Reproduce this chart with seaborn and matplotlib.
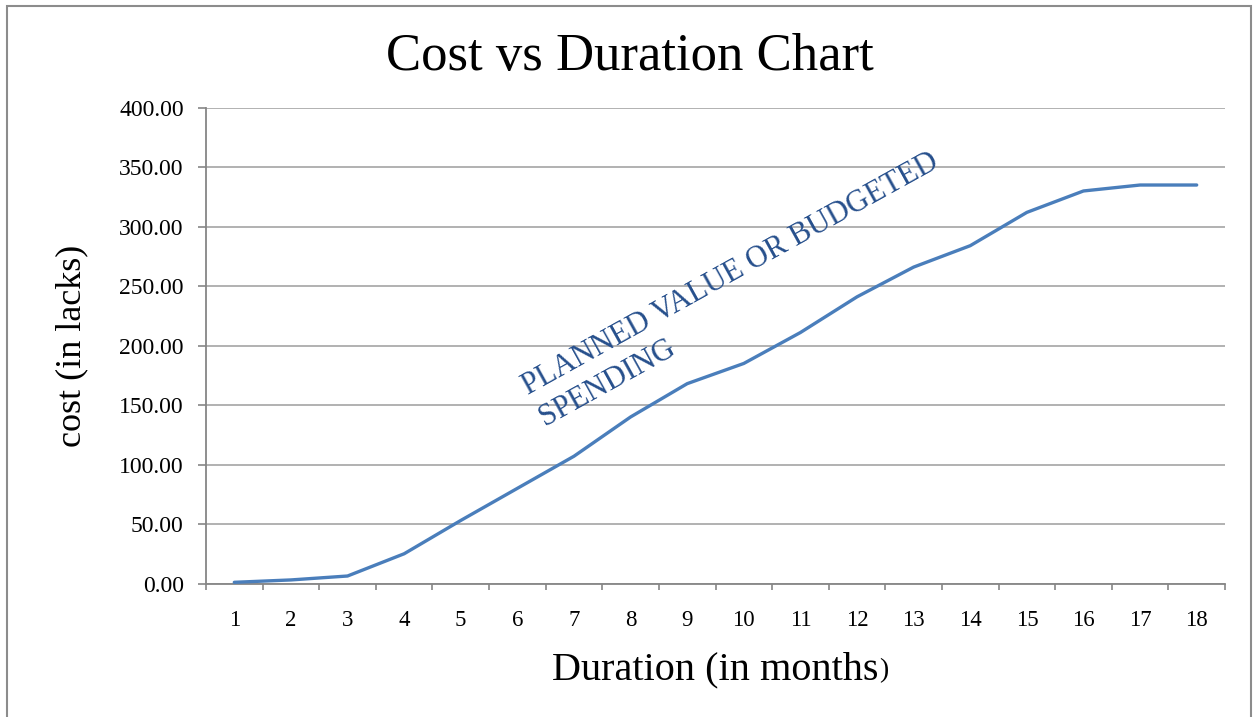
import numpy as np
import pandas as pd

#visualization
import matplotlib
matplotlib.use("Agg")
import matplotlib.pyplot as plt
from matplotlib.patches import Rectangle
from matplotlib.ticker import StrMethodFormatter
import seaborn as sns

# data
months = list(range(1, 19))
cost = [1.0, 3.0, 6.3, 25.0, 53.0, 80.0, 107.0, 140.0, 168.0,
        185.0, 211.0, 241.0, 266.0, 284.0, 312.0, 330.0, 335.0, 335.0]
y_ticks = list(range(0, 401, 50))

title = "Cost vs Duration Chart"
x_label = "Duration (in months"
y_label = "cost (in lacks)"
note = "PLANNED VALUE OR BUDGETED\nSPENDING"

df = pd.DataFrame({"month": months, "cost": cost})

sns.set_style("white")
plt.rcParams["font.family"] = ["Liberation Serif", "DejaVu Serif"]
plt.rcParams["text.color"] = "black"
plt.rcParams["axes.labelcolor"] = "black"
plt.rcParams["xtick.color"] = "black"
plt.rcParams["ytick.color"] = "black"

line_color = "#4a7ebb"
grid_color = "#ababab"
axis_color = "#868686"

fig = plt.figure(figsize=(12.53, 7.17), dpi=100)
ax = fig.add_axes([206 / 1253, 1 - 583.5 / 717, (1225 - 206) / 1253, (583.5 - 107.7) / 717])

sns.lineplot(data=df, x="month", y="cost", color=line_color, linewidth=2.4,
             solid_capstyle="round", solid_joinstyle="round", ax=ax, zorder=3)

ax.set_xlim(0.5, 18.5)
ax.set_ylim(0, 400)
ax.set_yticks(y_ticks)
ax.yaxis.set_major_formatter(StrMethodFormatter("{x:.2f}"))
ax.set_xticks(months)
ax.set_xticks(np.arange(0.5, 19, 1), minor=True)

ax.yaxis.grid(True, color=grid_color, linewidth=1.3)
ax.xaxis.grid(False)
for side in ["top", "right"]:
    ax.spines[side].set_visible(False)
for side in ["left", "bottom"]:
    ax.spines[side].set_color(axis_color)
    ax.spines[side].set_linewidth(1.3)

ax.tick_params(axis="y", which="major", direction="out", length=6, width=1.2,
               color=axis_color, labelcolor="black", pad=10, labelsize=17, left=True)
ax.tick_params(axis="x", which="major", length=0, pad=19, labelsize=16.5,
               labelcolor="black")
ax.tick_params(axis="x", which="minor", direction="out", length=4.5, width=1.2,
               color=axis_color, bottom=True)

ax.set_xlabel(x_label, fontsize=29, labelpad=15)
ax.set_ylabel(y_label, fontsize=26, labelpad=22)
# the closing bracket of the x label is smaller in the original
ax.annotate(")", xy=(1, 0), xycoords=ax.xaxis.label, ha="left", va="bottom",
            fontsize=20, xytext=(0, 4), textcoords="offset points")

# baseline anchor sits on the last line (SPENDING)
ax.text(6.43, 137.4, note, rotation=29, rotation_mode="anchor", ha="left",
        va="baseline", fontsize=22, color="#264f8c", linespacing=1.3)

fig.text(0.503, 1 - 70 / 717, title, ha="center", va="baseline", fontsize=38)

fig.patches.append(Rectangle((7 / 1253, -0.02), (1251 - 7) / 1253, 1 - 6 / 717 + 0.02,
                             transform=fig.transFigure, fill=False,
                             edgecolor="#8c8c8c", linewidth=1.5))

fig.savefig("out.png", dpi=100)
